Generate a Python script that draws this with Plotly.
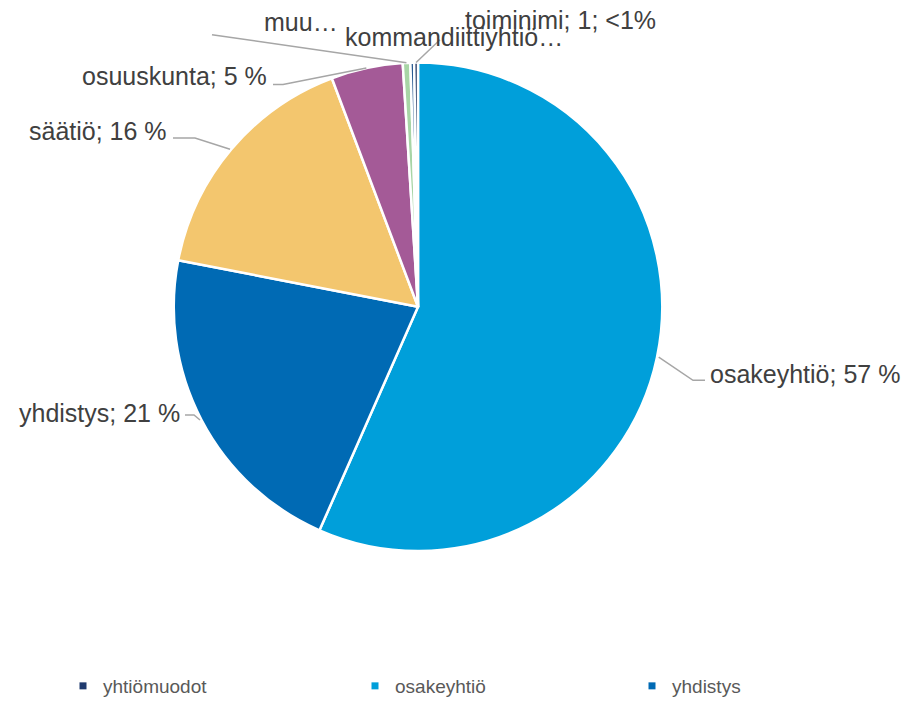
import math
import plotly.graph_objects as go

# ---------------- data ----------------
categories = ["osakeyhtiö", "yhdistys", "säätiö", "osuuskunta", "muu",
              "kommandiittiyhtiö", "toiminimi"]
values = [227, 86, 65, 19, 2, 1, 1]
label_texts = ["osakeyhtiö; 57 %", "yhdistys; 21 %", "säätiö; 16 %", "osuuskunta; 5 %",
               "muu…", "kommandiittiyhtiö…", "toiminimi; 1; <1%"]
slice_colors = ["#009FDA", "#006AB4", "#F3C66E", "#A45A97", "#A8D5A6",
                "#2A5B92", "#1B2F5E"]

legend_labels = ["yhtiömuodot", "osakeyhtiö", "yhdistys"]
legend_colors = ["#1F3A6E", "#009FDA", "#006AB4"]

# ---------------- layout helpers ----------------
W, H = 910, 705
CX, CY, R = 418, 309, 246


def X(px):
    return px / W


def Y(py):
    return 1 - py / H


# label placement (pixel layout): text x, text y-centre, anchor, leader-line bends
label_layout = {
    "osakeyhtiö": dict(x=708, y=377, anchor="left", bends=[(693, 383), (705, 383)]),
    "yhdistys": dict(x=182, y=416, anchor="right", bends=[(194, 418), (185, 418)]),
    "säätiö": dict(x=169, y=132, anchor="right", bends=[(195, 139), (173, 139)]),
    "osuuskunta": dict(x=269, y=77, anchor="right", bends=[(283, 85), (273, 85)]),
    "muu": dict(x=262, y=22, anchor="left", bends=[(212, 35)]),
    "kommandiittiyhtiö": dict(x=343, y=37, anchor="left", bends=None),
    "toiminimi": dict(x=463, y=20, anchor="left", bends=[(440, 40)]),
}

fig = go.Figure()

fig.add_trace(go.Pie(
    labels=categories,
    values=values,
    sort=False,
    direction="clockwise",
    rotation=0,
    marker=dict(colors=slice_colors, line=dict(color="white", width=2.5)),
    textinfo="none",
    hoverinfo="label+value+percent",
    showlegend=False,
    domain=dict(x=[X(CX - R), X(CX + R)], y=[Y(CY + R), Y(CY - R)]),
))

# legend (only the three visible entries of the original)
legend_names = ["legend", "legend2", "legend3"]
legend_left = [63, 355, 632]
for name, lab, col in zip(legend_names, legend_labels, legend_colors):
    fig.add_trace(go.Scatter(
        x=[None], y=[None], mode="markers", name=lab,
        marker=dict(symbol="square", size=7, color=col),
        legend=name, showlegend=True, hoverinfo="skip",
    ))

# labels + leader lines (edge points derived from slice angles)
total = sum(values)
cum = 0
annotations = []
shapes = []
for cat, v, txt in zip(categories, values, label_texts):
    mid = (cum + v / 2) / total * 2 * math.pi
    cum += v
    ex = CX + R * math.sin(mid)
    ey = CY - R * math.cos(mid)
    lay = label_layout[cat]
    annotations.append(dict(
        x=X(lay["x"]), y=Y(lay["y"]), xref="paper", yref="paper",
        text=txt, showarrow=False, xanchor=lay["anchor"], yanchor="middle",
        font=dict(family="Liberation Sans, Arial, sans-serif", size=25, color="#404040"),
    ))
    if lay["bends"]:
        pts = [(ex, ey)] + lay["bends"]
        path = "M " + " L ".join(f"{X(px)},{Y(py)}" for px, py in pts)
        shapes.append(dict(type="path", path=path, xref="paper", yref="paper",
                           line=dict(color="#A6A6A6", width=1.5)))

legend_common = dict(
    orientation="h", yanchor="middle", xanchor="left",
    font=dict(family="Liberation Sans, Arial, sans-serif", size=19, color="#595959"),
    bgcolor="rgba(0,0,0,0)", itemclick=False, itemdoubleclick=False,
)

fig.update_layout(
    width=W, height=H,
    margin=dict(l=0, r=0, t=0, b=0),
    paper_bgcolor="white", plot_bgcolor="white",
    xaxis=dict(visible=False), yaxis=dict(visible=False),
    annotations=annotations,
    shapes=shapes,
    legend=dict(x=X(legend_left[0]), y=Y(691), **legend_common),
    legend2=dict(x=X(legend_left[1]), y=Y(691), **legend_common),
    legend3=dict(x=X(legend_left[2]), y=Y(691), **legend_common),
)

fig.write_html("out.html")
